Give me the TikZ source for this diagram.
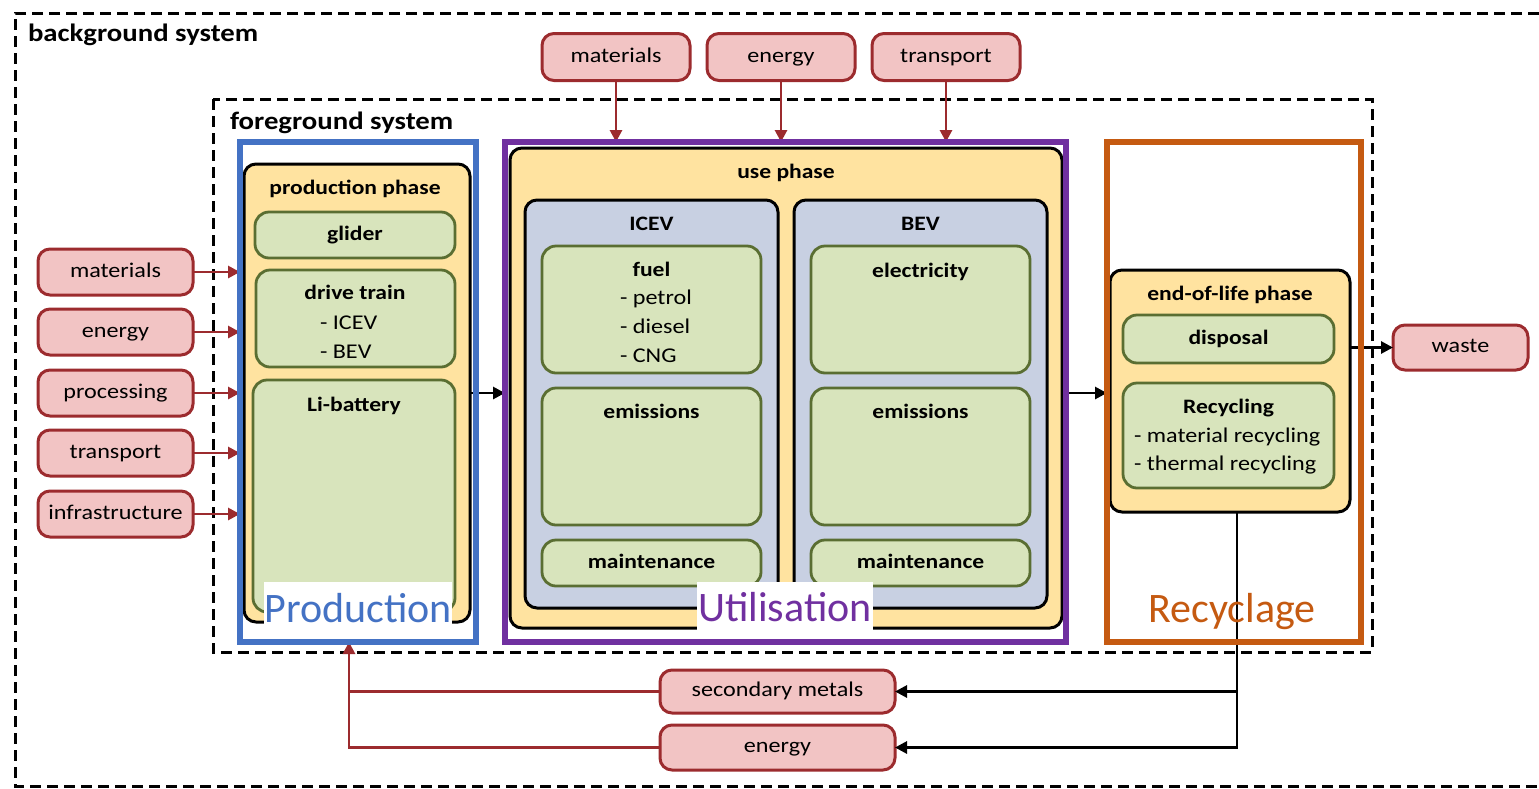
\documentclass[tikz,border=0pt]{standalone}
\usepackage{fontspec}
\setmainfont{Carlito}[FakeStretch=1.15]
\newfontfamily\bigfont{Carlito}
\usetikzlibrary{arrows.meta}
\definecolor{redfill}{HTML}{F2C4C4}
\definecolor{redline}{HTML}{9C2B2E}
\definecolor{yel}{HTML}{FFE3A0}
\definecolor{grn}{HTML}{D8E4BC}
\definecolor{grnline}{HTML}{5A6E32}
\definecolor{bluegray}{HTML}{C8D0E2}
\definecolor{prodblue}{HTML}{4472C4}
\definecolor{utilpurple}{HTML}{7030A0}
\definecolor{recorange}{HTML}{C55A11}
\tikzset{
 every node/.style={inner sep=0pt, outer sep=0pt},
 redbox/.style={draw=redline, fill=redfill, line width=3pt, rounded corners=12pt, font=\fontsize{21}{25}\selectfont, text height=14pt, text depth=4pt},
 yelbox/.style={draw=black, fill=yel, line width=3pt, rounded corners=12pt},
 bgbox/.style={draw=black, fill=bluegray, line width=3pt, rounded corners=12pt},
 grnbox/.style={draw=grnline, fill=grn, line width=2.8pt, rounded corners=14pt, font=\bfseries\fontsize{20.5}{24}\selectfont, text height=14pt, text depth=4pt},
 title/.style={font=\bfseries\fontsize{20.5}{24}\selectfont, text height=14pt, text depth=4pt},
 item/.style={font=\fontsize{21}{25}\selectfont, anchor=west, text height=14pt, text depth=4pt},
 frame/.style={line width=6pt},
 dashbox/.style={line width=3pt, dash pattern=on 11pt off 6pt},
 redarrow/.style={draw=redline, line width=2.8pt, -{Triangle[length=12pt,width=12pt]}},
 redlink/.style={draw=redline, line width=2.8pt},
 blackarrow/.style={draw=black, line width=2.8pt, -{Triangle[length=12pt,width=12pt]}},
 big/.style={font=\bigfont\fontsize{42}{48}\selectfont, anchor=base},
 syslabel/.style={font=\bfseries\fontsize{25}{30}\selectfont, anchor=base west},
}
\begin{document}
\begin{tikzpicture}[x=1pt,y=-1pt]
\useasboundingbox[fill=white] (0,0) rectangle (1539,788);
% background and foreground systems
\draw[dashbox] (1539,13) -| (15,786) -- (1539,786);
\node[syslabel] (bgl) at (28,41) {background system};
\draw[dashbox] (213,99) rectangle (1372,652);
\node[syslabel] (fgl) at (230,129) {foreground system};

% frames as nodes (drawn later)
\node[minimum width=236, minimum height=500] (prod) at (358,392) {};
\node[minimum width=561, minimum height=500] (util) at (785.5,392) {};
\node[minimum width=254, minimum height=500] (rec) at (1234,392) {};

% top inputs
\node[redbox, minimum width=148, minimum height=47] (tm) at (616,57) {materials};
\node[redbox, minimum width=148, minimum height=47] (te) at (781,57) {energy};
\node[redbox, minimum width=148, minimum height=47] (tt) at (946,57) {transport};
% left inputs
\node[redbox, minimum width=155, minimum height=46] (lm) at (115.5,272) {materials};
\node[redbox, minimum width=155, minimum height=46] (le) at (115.5,332) {energy};
\node[redbox, minimum width=155, minimum height=46] (lp) at (115.5,393) {processing};
\node[redbox, minimum width=155, minimum height=46] (lt) at (115.5,453) {transport};
\node[redbox, minimum width=155, minimum height=46] (li) at (115.5,514) {infrastructure};
% outputs
\node[redbox, minimum width=135, minimum height=45] (waste) at (1460.5,347.5) {waste};
\node[redbox, minimum width=235, minimum height=43] (sm) at (777.5,691.5) {secondary metals};
\node[redbox, minimum width=235, minimum height=45] (en2) at (777.5,747.5) {energy};

% production phase
\node[yelbox, minimum width=226, minimum height=458] (pp) at (357,393) {};
\node[title] (ppt) at (355,189) {production phase};
\node[grnbox, minimum width=200, minimum height=46] (glider) at (355,235) {glider};
\node[grnbox, minimum width=199, minimum height=97] (dt) at (355.5,318.5) {};
\node[title] (dtt) at (355,294) {drive train};
\node[item] (dt1) at (320,324) {- ICEV};
\node[item] (dt2) at (320,353) {- BEV};
\node[grnbox, minimum width=202, minimum height=232] (lib) at (354,496) {};
\node[title] (libt) at (354,406) {Li-battery};

% use phase
\node[yelbox, minimum width=552, minimum height=480] (up) at (786,388) {};
\node[title] (upt) at (786,173) {use phase};
\node[bgbox, minimum width=253, minimum height=408] (icev) at (651.5,404) {};
\node[title] (icevt) at (651.5,225) {ICEV};
\node[bgbox, minimum width=253, minimum height=408] (bev) at (920.5,404) {};
\node[title] (bevt) at (920.5,225) {BEV};
\node[grnbox, minimum width=219, minimum height=127] (fuel) at (651.5,309.5) {};
\node[title] (fuelt) at (651.5,271) {fuel};
\node[item] (f1) at (620,299.5) {- petrol};
\node[item] (f2) at (620,328) {- diesel};
\node[item] (f3) at (620,357) {- CNG};
\node[grnbox, minimum width=219, minimum height=127] (elec) at (920.5,309.5) {};
\node[title] (elect) at (920.5,272) {electricity};
\node[grnbox, minimum width=219, minimum height=137] (emi1) at (651.5,456.5) {};
\node[title] (emi1t) at (651.5,413) {emissions};
\node[grnbox, minimum width=219, minimum height=137] (emi2) at (920.5,456.5) {};
\node[title] (emi2t) at (920.5,413) {emissions};
\node[grnbox, minimum width=219, minimum height=46] (mt1) at (651.5,563) {maintenance};
\node[grnbox, minimum width=219, minimum height=46] (mt2) at (920.5,563) {maintenance};

% end-of-life phase
\node[yelbox, minimum width=240, minimum height=242] (eol) at (1230,391) {};
\node[title] (eolt) at (1230,295) {end-of-life phase};
\node[grnbox, minimum width=211, minimum height=48] (disp) at (1228.5,339) {disposal};
\node[grnbox, minimum width=211, minimum height=105] (recy) at (1228.5,435.5) {};
\node[title] (recyt) at (1228.5,408) {Recycling};
\node[item] (r1) at (1134,437) {- material recycling};
\node[item] (r2) at (1134,465) {- thermal recycling};

% connectors
\foreach \n in {tm,te,tt} \draw[redarrow] (\n.south) -- (\n.south |- util.north);
\foreach \n in {lm,le,lp,lt,li} \draw[redarrow] (\n.east) -- (\n.east -| prod.west);
\draw[blackarrow] (pp.east) -- (pp.east -| util.west);
\draw[blackarrow] (up.east |- pp.east) -- (pp.east -| rec.west);
\draw[blackarrow] (eol.east |- waste.west) -- (waste.west);
\coordinate (fb) at (349,642);
\draw[redlink] (sm.west) -| (fb);
\draw[redarrow] (en2.west) -| (fb);
\draw[blackarrow] ([xshift=7pt]eol.south) |- (sm.east);
\draw[blackarrow] ([xshift=7pt]eol.south) |- (en2.east);

% coloured frames
\draw[frame, prodblue] (prod.south west) rectangle (prod.north east);
\draw[frame, utilpurple] (util.south west) rectangle (util.north east);
\draw[frame, recorange] (rec.south west) rectangle (rec.north east);

% big labels
\node[fill=white, minimum width=188, minimum height=43] (prodbg) at (358,603.5) {};
\node[big, text=prodblue] (prodl) at (358,622) {Production};
\node[fill=white, minimum width=176, minimum height=48] (utilbg) at (785,606) {};
\node[big, text=utilpurple] (utill) at (785,621) {Utilisation};
\node[big, text=recorange] (recl) at (1232,622) {Recyclage};
\end{tikzpicture}
\end{document}
